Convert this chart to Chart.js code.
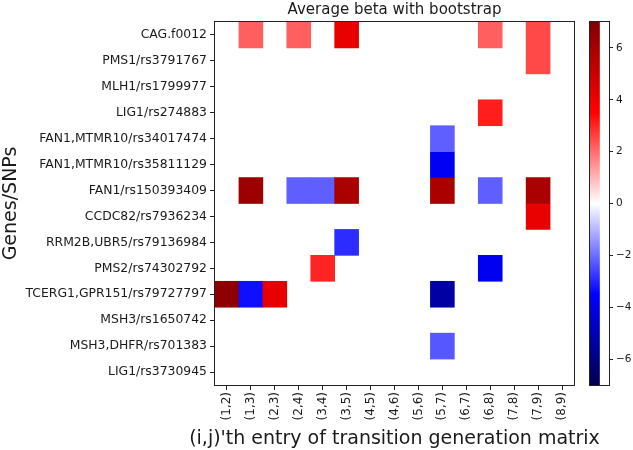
<!DOCTYPE html>
<html>
<head>
<meta charset="utf-8">
<script src="https://cdn.jsdelivr.net/npm/chart.js@4.4.0/dist/chart.umd.min.js"></script>
<style>
  body { margin: 0; background: #fff; overflow: hidden; }
  #wrap { position: relative; width: 633px; height: 450px; }
  #heat { position: absolute; left: 0; top: 0; }
  #cbar { position: absolute; left: 580px; top: 0; }
</style>
</head>
<body>
<div id="wrap">
  <canvas id="heat" width="633" height="450"></canvas>
  <canvas id="cbar" width="53" height="450"></canvas>
</div>
<script>
//  columns: (i,j) entries of the matrix
const cols = ['(1,2)','(1,3)','(2,3)','(2,4)','(3,4)','(3,5)','(4,5)','(4,6)','(5,6)','(5,7)','(6,7)','(6,8)','(7,8)','(7,9)','(8,9)'];

//  rows: genes / SNPs, top to bottom
const rows = [
    'CAG.f0012',
    'PMS1/rs3791767',
    'MLH1/rs1799977',
    'LIG1/rs274883',
    'FAN1,MTMR10/rs34017474',
    'FAN1,MTMR10/rs35811129',
    'FAN1/rs150393409',
    'CCDC82/rs7936234',
    'RRM2B,UBR5/rs79136984',
    'PMS2/rs74302792',
    'TCERG1,GPR151/rs79727797',
    'MSH3/rs1650742',
    'MSH3,DHFR/rs701383',
    'LIG1/rs3730945'
];

//  average beta per row (0 = no value, drawn white)
const beta_cag    = [0, 2.2, 0, 2.2, 0, 4.1, 0, 0, 0, 0, 0, 2.2, 0, 2.5, 0];
const beta_pms1   = [0, 0, 0, 0, 0, 0, 0, 0, 0, 0, 0, 0, 0, 2.5, 0];
const beta_mlh1   = [0, 0, 0, 0, 0, 0, 0, 0, 0, 0, 0, 0, 0, 0, 0];
const beta_lig1a  = [0, 0, 0, 0, 0, 0, 0, 0, 0, 0, 0, 3.1, 0, 0, 0];
const beta_fan1a  = [0, 0, 0, 0, 0, 0, 0, 0, 0, -2.2, 0, 0, 0, 0, 0];
const beta_fan1b  = [0, 0, 0, 0, 0, 0, 0, 0, 0, -3.7, 0, 0, 0, 0, 0];
const beta_fan1c  = [0, 6.2, 0, -2.2, -2.2, 5.8, 0, 0, 0, 5.8, 0, -2.2, 0, 5.8, 0];
const beta_ccdc82 = [0, 0, 0, 0, 0, 0, 0, 0, 0, 0, 0, 0, 0, 4.1, 0];
const beta_rrm2b  = [0, 0, 0, 0, 0, -2.9, 0, 0, 0, 0, 0, 0, 0, 0, 0];
const beta_pms2   = [0, 0, 0, 0, 3.0, 0, 0, 0, 0, 0, 0, -3.8, 0, 0, 0];
const beta_tcerg1 = [6.6, -3.3, 4.2, 0, 0, 0, 0, 0, 0, -5.3, 0, 0, 0, 0, 0];
const beta_msh3a  = [0, 0, 0, 0, 0, 0, 0, 0, 0, 0, 0, 0, 0, 0, 0];
const beta_msh3b  = [0, 0, 0, 0, 0, 0, 0, 0, 0, -2.3, 0, 0, 0, 0, 0];
const beta_lig1b  = [0, 0, 0, 0, 0, 0, 0, 0, 0, 0, 0, 0, 0, 0, 0];

const betas = [beta_cag, beta_pms1, beta_mlh1, beta_lig1a, beta_fan1a, beta_fan1b, beta_fan1c,
               beta_ccdc82, beta_rrm2b, beta_pms2, beta_tcerg1, beta_msh3a, beta_msh3b, beta_lig1b];

//  colour scale limits and colorbar ticks
const vmin = -7, vmax = 7;
const cbar_ticks = [-6, -4, -2, 0, 2, 4, 6];

const xTitle = "(i,j)'th entry of transition generation matrix";

//  seismic colormap anchors
const cmap = [[0, 0, 0.3], [0, 0, 1], [1, 1, 1], [1, 0, 0], [0.5, 0, 0]];

function seismic(v){
    let x = (v - vmin) / (vmax - vmin);
    x = Math.min(1, Math.max(0, x)) * 4;
    const i = Math.min(3, Math.floor(x));
    const f = x - i;
    const c = cmap[i].map((a, k) => Math.round(255 * (a + (cmap[i+1][k] - a) * f)));
    return 'rgb(' + c[0] + ',' + c[1] + ',' + c[2] + ')';
}

const textColor = '#1a1a1a';
const frameColor = '#222';
const fontFamily = "'DejaVu Sans', sans-serif";
Chart.defaults.font.family = fontFamily;
Chart.defaults.color = textColor;

//  frame around the plot area
const framePlugin = {
    id: 'frame',
    afterDraw(chart){
        const a = chart.chartArea, ctx = chart.ctx;
        ctx.save();
        ctx.strokeStyle = frameColor;
        ctx.lineWidth = 1;
        ctx.strokeRect(Math.round(a.left) - 0.5, Math.round(a.top) - 0.5,
                       Math.round(a.right - a.left) + 1, Math.round(a.bottom - a.top) + 1);
        ctx.restore();
    }
};

//  x axis title, drawn here so it is not squeezed to the plot width
const xTitlePlugin = {
    id: 'xtitle',
    afterDraw(chart){
        const a = chart.chartArea, ctx = chart.ctx;
        ctx.save();
        ctx.fillStyle = textColor;
        ctx.font = '19px ' + fontFamily;
        ctx.textAlign = 'center';
        ctx.textBaseline = 'alphabetic';
        ctx.fillText(xTitle, (a.left + a.right) / 2, 444);
        ctx.restore();
    }
};

//  one floating-bar dataset per row
const datasets = betas.map((vals, r) => ({
    data: vals.map(v => v === 0 ? null : [r, r + 1]),
    backgroundColor: vals.map(v => seismic(v)),
    borderWidth: 0,
    grouped: false,
    barPercentage: 1,
    categoryPercentage: 1
}));

new Chart(document.getElementById('heat'), {
    type: 'bar',
    data: { labels: cols, datasets: datasets },
    options: {
        responsive: false,
        animation: false,
        layout: { padding: { left: 0, right: 59, top: 0, bottom: 0 } },
        plugins: {
            legend: { display: false },
            tooltip: { enabled: false },
            title: {
                display: true,
                text: 'Average beta with bootstrap',
                fullSize: false,
                color: textColor,
                font: { size: 15, weight: 'normal' },
                padding: { top: 1, bottom: 3 }
            }
        },
        scales: {
            x: {
                afterFit: s => { s.height = 65; },
                border: { display: false },
                grid: { display: true, drawOnChartArea: false, drawTicks: true, tickLength: 5, tickColor: frameColor, offset: false },
                ticks: { autoSkip: false, maxRotation: 90, minRotation: 90, padding: 2, font: { size: 12 }, color: textColor }
            },
            y: {
                type: 'linear',
                min: 0,
                max: rows.length,
                reverse: true,
                afterFit: s => { s.width = 215; },
                afterBuildTicks: s => { s.ticks = rows.map((_, i) => ({ value: i + 0.5 })); },
                border: { display: false },
                grid: { display: true, drawOnChartArea: false, drawTicks: true, tickLength: 5, tickColor: frameColor },
                ticks: { padding: 3, font: { size: 12.4 }, color: textColor,
                         callback: (value, index) => rows[index] },
                title: { display: true, text: 'Genes/SNPs', font: { size: 19 }, color: textColor, padding: 0 }
            }
        }
    },
    plugins: [framePlugin, xTitlePlugin]
});

//  colorbar
new Chart(document.getElementById('cbar'), {
    type: 'bar',
    data: {
        labels: [''],
        datasets: [{
            data: [[vmin, vmax]],
            borderWidth: 0,
            barPercentage: 1,
            categoryPercentage: 1,
            backgroundColor: (ctx) => {
                const area = ctx.chart.chartArea;
                if (!area) return '#fff';
                const g = ctx.chart.ctx.createLinearGradient(0, area.bottom, 0, area.top);
                cmap.forEach((c, i) => g.addColorStop(i / 4, 'rgb(' + c.map(a => Math.round(a * 255)).join(',') + ')'));
                return g;
            }
        }]
    },
    options: {
        responsive: false,
        animation: false,
        layout: { padding: { left: 10, right: 0, top: 22, bottom: 65 } },
        plugins: { legend: { display: false }, tooltip: { enabled: false } },
        scales: {
            x: { display: false, offset: false },
            y: {
                position: 'right',
                min: vmin,
                max: vmax,
                afterFit: s => { s.width = 24; },
                afterBuildTicks: s => { s.ticks = cbar_ticks.map(v => ({ value: v })); },
                border: { display: false },
                grid: { display: true, drawOnChartArea: false, drawTicks: true, tickLength: 4, tickColor: frameColor },
                ticks: { padding: 3, font: { size: 10.5 }, color: textColor,
                         callback: v => v < 0 ? '\u2212' + (-v) : String(v) }
            }
        }
    },
    plugins: [framePlugin]
});
</script>
</body>
</html>
